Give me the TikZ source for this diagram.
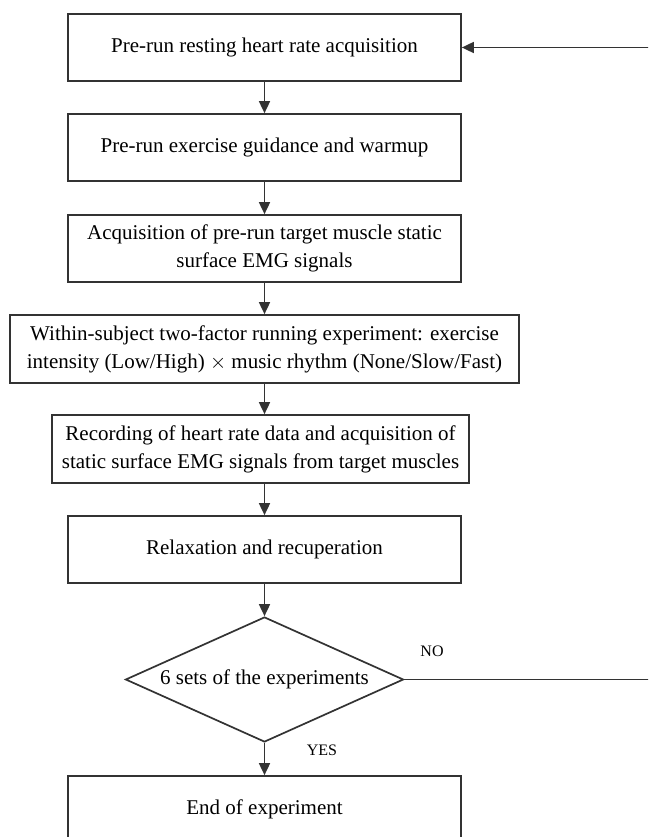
\documentclass[tikz,border=0pt]{standalone}
\usepackage{fontspec}
\setmainfont{Liberation Serif}
\usetikzlibrary{shapes.geometric,arrows.meta}

\begin{document}
\begin{tikzpicture}[x=1pt,y=-1pt,
  box/.style={draw=black!80,line width=1.7pt,align=center,inner sep=2pt,
    minimum width=393pt,minimum height=67pt,font=\fontsize{21}{28}\selectfont},
  decide/.style={draw=black!80,line width=1.7pt,diamond,aspect=2.224,inner sep=0pt,
    minimum width=278pt,minimum height=125pt,font=\fontsize{21}{28}\selectfont},
  tag/.style={font=\fontsize{16}{18}\selectfont},
  arr/.style={draw=black!80,line width=1.7pt,-{Triangle[length=12pt,width=11pt]}}]
  \useasboundingbox (0,0) rectangle (648,837);
  \clip (0,0) rectangle (648,837);
  \fill[white] (0,0) rectangle (648,837);
  % steps, top to bottom
  \node[box] (rest) at (264.5,47.5) {Pre-run resting heart rate acquisition};
  \node[box] (warm) at (264.5,147.5) {Pre-run exercise guidance and warmup};
  \node[box] (emgpre) at (264.5,248.5) {Acquisition of pre-run target muscle static\\surface EMG signals};
  \node[box,minimum width=509pt,minimum height=68pt] (trial) at (264.5,349)
    {Within-subject two-factor running experiment: exercise\\intensity (Low/High) $\times$ music rhythm (None/Slow/Fast)};
  \node[box,minimum width=417pt,minimum height=68pt] (record) at (260.5,449)
    {Recording of heart rate data and acquisition of\\static surface EMG signals from target muscles};
  \node[box] (relax) at (264.5,549.5) {Relaxation and recuperation};
  \node[decide] (sets) at (264.5,679.5) {6 sets of the experiments};
  \node[box] (stop) at (264.5,809.5) {End of experiment};
  % arrows
  \draw[arr] (rest) -- (warm);
  \draw[arr] (warm) -- (emgpre);
  \draw[arr] (emgpre) -- (trial);
  \draw[arr] (trial.south) -- (trial.south |- record.north);
  \draw[arr] (relax.north |- record.south) -- (relax.north);
  \draw[arr] (relax) -- (sets);
  \draw[arr] (sets) -- (stop);
  % loop back, runs off the right edge
  \draw[arr] (sets.east) -- ++(262,0) |- (rest.east);
  \node[tag] (no) at (432,651) {NO};
  \node[tag] (yes) at (322,750) {YES};
\end{tikzpicture}
\end{document}
